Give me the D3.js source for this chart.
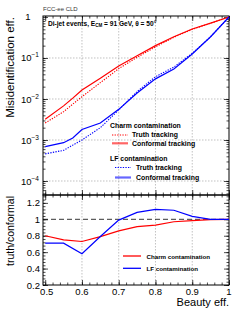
<!DOCTYPE html>
<html>
<head>
<meta charset="utf-8">
<script src="https://cdn.jsdelivr.net/npm/d3@7"></script>
<style>
  body { margin: 0; background: #fff; }
  svg { display: block; font-family: "Liberation Sans", Arial, sans-serif; }
</style>
</head>
<body>
<svg id="chart" width="249" height="324"></svg>
<script>
// beauty efficiency (x)
var effB = [0.5, 0.55, 0.575, 0.6, 0.65, 0.7, 0.75, 0.8, 0.85, 0.9, 0.95, 1.0];
// charm misid, conformal / truth tracking
var charmConformal = [3.2e-3, 6.8e-3, 1.05e-2, 1.66e-2, 3.2e-2, 6.4e-2, 0.114, 0.20, 0.33, 0.51, 0.71, 1.0];
var charmTruth     = [2.6e-3, 4.9e-3, 7.5e-3, 1.14e-2, 2.5e-2, 5.5e-2, 0.104, 0.186, 0.32, 0.50, 0.705, 1.0];
// light flavour misid
var lfConformal = [6.9e-4, 8.6e-4, 1.12e-3, 1.8e-3, 2.6e-3, 5.6e-3, 0.014, 0.031, 0.054, 0.125, 0.33, 1.0];
var lfTruth     = [4.6e-4, 5.6e-4, 7.5e-4, 1.0e-3, 2.0e-3, 5.4e-3, 0.0152, 0.035, 0.060, 0.13, 0.33, 1.0];

// ratio panel (truth / conformal)
var ratioX     = [0.5, 0.55, 0.6, 0.65, 0.7, 0.75, 0.8, 0.85, 0.9, 0.95, 1.0];
var ratioCharm = [0.80, 0.75, 0.73, 0.79, 0.86, 0.91, 0.93, 0.97, 0.985, 0.995, 1.0];
var ratioLF    = [0.71, 0.71, 0.58, 0.79, 0.99, 1.085, 1.12, 1.11, 1.035, 1.0, 1.0];

var xTicks = [0.5, 0.6, 0.7, 0.8, 0.9, 1];
var xTickLabels = ["0.5", "0.6", "0.7", "0.8", "0.9", "1"];
var yLogExp = [0, -1, -2, -3, -4];
var ratioTicks = [0.2, 0.4, 0.6, 0.8, 1, 1.2];
var ratioTickLabels = ["0.2", "0.4", "0.6", "0.8", "1", "1.2"];

var RED = "#ff0000", BLUE = "#0000ff";

var svg = d3.select("#chart");
var L = 43, R = 229, T1 = 16, B1 = 195, B2 = 285;

var x = d3.scaleLinear().domain([0.494, 1]).range([L, R]);
var y = d3.scaleLog().domain([4.56e-5, 1.057]).range([B1, T1]);
var yr = d3.scaleLinear().domain([0.2, 1.296]).range([B2, B1]);

// grid lines
function vgrid(y0, y1) {
    svg.append("g").selectAll("line")
        .data([0.6, 0.7, 0.8, 0.9])
        .enter().append("line")
        .attr("x1", function (d) { return x(d); })
        .attr("x2", function (d) { return x(d); })
        .attr("y1", y0).attr("y2", y1)
        .attr("stroke", "#999").attr("stroke-width", 0.6)
        .attr("stroke-dasharray", "1.5,1.5");
}
vgrid(T1, B1);
vgrid(B1, B2);
svg.append("g").selectAll("line")
    .data([0.1, 0.01, 0.001, 0.0001])
    .enter().append("line")
    .attr("x1", L).attr("x2", R)
    .attr("y1", function (d) { return y(d); })
    .attr("y2", function (d) { return y(d); })
    .attr("stroke", "#999").attr("stroke-width", 0.6)
    .attr("stroke-dasharray", "1.5,1.5");

// axes with inside ticks
function tickOnly(axis) {
    return function (g) {
        g.call(axis);
        g.select(".domain").remove();
        g.selectAll("text").remove();
        g.selectAll("line").attr("stroke", "#000").attr("stroke-width", 0.7);
    };
}
var xMinor = d3.range(0.5, 1.0001, 0.02);
[[B1, 1], [T1, -1], [B2, 1], [B1, -1]].forEach(function (p) {
    var mk = p[1] > 0 ? d3.axisTop : d3.axisBottom;
    svg.append("g").attr("transform", "translate(0," + p[0] + ")")
        .call(tickOnly(mk(x).tickValues(xMinor).tickSizeOuter(0).tickSize(2.5)));
    svg.append("g").attr("transform", "translate(0," + p[0] + ")")
        .call(tickOnly(mk(x).tickValues(xTicks).tickSizeOuter(0).tickSize(5)));
});

var logMinor = [];
[-5, -4, -3, -2, -1].forEach(function (e) {
    for (var k = 1; k < 10; k++) {
        var v = k * Math.pow(10, e);
        if (v >= y.domain()[0] && v <= y.domain()[1]) logMinor.push(v);
    }
});
var logMajor = yLogExp.map(function (e) { return Math.pow(10, e); });
[[L, d3.axisRight], [R, d3.axisLeft]].forEach(function (p) {
    svg.append("g").attr("transform", "translate(" + p[0] + ",0)")
        .call(tickOnly(p[1](y).tickValues(logMinor).tickSizeOuter(0).tickSize(2.5)));
    svg.append("g").attr("transform", "translate(" + p[0] + ",0)")
        .call(tickOnly(p[1](y).tickValues(logMajor).tickSizeOuter(0).tickSize(5)));
});

var rMinor = d3.range(0.2, 1.2961, 0.04);
[[L, d3.axisRight], [R, d3.axisLeft]].forEach(function (p) {
    svg.append("g").attr("transform", "translate(" + p[0] + ",0)")
        .call(tickOnly(p[1](yr).tickValues(rMinor).tickSizeOuter(0).tickSize(2.5)));
    svg.append("g").attr("transform", "translate(" + p[0] + ",0)")
        .call(tickOnly(p[1](yr).tickValues(ratioTicks).tickSizeOuter(0).tickSize(5)));
});

// frames
svg.append("rect").attr("x", L).attr("y", T1).attr("width", R - L).attr("height", B1 - T1)
    .attr("fill", "none").attr("stroke", "#000").attr("stroke-width", 1);
svg.append("rect").attr("x", L).attr("y", B1).attr("width", R - L).attr("height", B2 - B1)
    .attr("fill", "none").attr("stroke", "#000").attr("stroke-width", 1);

// tick labels
var ylab = svg.append("g").attr("font-size", 9.5).attr("fill", "#000");
yLogExp.forEach(function (e) {
    var t = ylab.append("text").attr("y", y(Math.pow(10, e)) + 3.5);
    if (e === 0) {
        t.attr("x", 28).attr("text-anchor", "middle").text("1");
    } else {
        t.attr("x", 39).attr("text-anchor", "end");
        t.append("tspan").text("10");
        t.append("tspan").attr("font-size", 6.5).attr("dy", -4).text("\u2212" + (-e));
    }
});
ratioTicks.forEach(function (v, i) {
    ylab.append("text").attr("x", 40).attr("y", yr(v) + 3.5)
        .attr("text-anchor", "end").text(ratioTickLabels[i]);
});
xTicks.forEach(function (v, i) {
    ylab.append("text").attr("x", x(v) + (i === 0 ? 1.5 : 0)).attr("y", 295)
        .attr("text-anchor", "middle").text(xTickLabels[i]);
});

// axis titles
svg.append("text").attr("x", R).attr("y", 306).attr("text-anchor", "end")
    .attr("font-size", 11).text("Beauty eff.");
svg.append("text").attr("transform", "translate(14," + 17 + ") rotate(-90)")
    .attr("text-anchor", "end").attr("font-size", 11.5).text("Misidentification eff.");
svg.append("text").attr("transform", "translate(14," + 196 + ") rotate(-90)")
    .attr("text-anchor", "end").attr("font-size", 10.5).text("truth/conformal");

svg.append("text").attr("x", L).attr("y", 11).attr("font-size", 6)
    .attr("fill", "#333").text("FCC-ee CLD");
var ttl = svg.append("text").attr("x", 48).attr("y", 25.5).attr("font-size", 6.6)
    .attr("font-weight", "bold");
ttl.append("tspan").text("Di-jet events, E");
ttl.append("tspan").attr("font-size", 4.5).attr("dy", 1.8).text("CM");
ttl.append("tspan").attr("dy", -1.8).text(" = 91 GeV, \u03b8 = 50\u00b0");

// ratio reference line
svg.append("line").attr("x1", L).attr("x2", R).attr("y1", yr(1)).attr("y2", yr(1))
    .attr("stroke", "#000").attr("stroke-width", 0.8).attr("stroke-dasharray", "5,3");

// curves
function curve(xs, ys, sy, color, dash) {
    var line = d3.line()
        .x(function (d, i) { return x(xs[i]); })
        .y(function (d) { return sy(d); });
    svg.append("path").datum(ys)
        .attr("d", line)
        .attr("fill", "none")
        .attr("stroke", color)
        .attr("stroke-width", dash ? 1.1 : 1.2)
        .attr("stroke-dasharray", dash ? "1.3,1.3" : null);
}
curve(effB, charmTruth, y, RED, true);
curve(effB, charmConformal, y, RED, false);
curve(effB, lfTruth, y, BLUE, true);
curve(effB, lfConformal, y, BLUE, false);
curve(ratioX, ratioCharm, yr, RED, false);
curve(ratioX, ratioLF, yr, BLUE, false);

// legends
var lg = svg.append("g").attr("font-size", 6.9).attr("font-weight", "bold");
lg.append("text").attr("x", 110).attr("y", 128).text("Charm contamination");
lg.append("text").attr("x", 132).attr("y", 137).text("Truth tracking");
lg.append("text").attr("x", 132).attr("y", 145.5).text("Conformal tracking");
lg.append("text").attr("x", 110).attr("y", 160.5).text("LF contamination");
lg.append("text").attr("x", 136).attr("y", 170).text("Truth tracking");
lg.append("text").attr("x", 136).attr("y", 180).text("Conformal tracking");
[[112, 128, 135, RED, true], [112, 128, 143.3, RED, false],
 [115, 131, 167.5, BLUE, true], [115, 131, 177.5, BLUE, false]].forEach(function (s) {
    lg.append("line").attr("x1", s[0]).attr("x2", s[1]).attr("y1", s[2]).attr("y2", s[2])
        .attr("stroke", s[3])
        .attr("stroke-width", s[4] ? 1.1 : 2.2)
        .attr("stroke-opacity", s[4] ? 1 : 0.6)
        .attr("stroke-dasharray", s[4] ? "1.3,1.3" : null);
});
lg.append("text").attr("x", 146.5).attr("y", 258.5).attr("font-size", 6.2).text("Charm contamination");
lg.append("text").attr("x", 146.5).attr("y", 270.5).attr("font-size", 6.2).text("LF contamination");
[[256, RED], [268.3, BLUE]].forEach(function (s) {
    lg.append("line").attr("x1", 123).attr("x2", 141).attr("y1", s[0]).attr("y2", s[0])
        .attr("stroke", s[1]).attr("stroke-width", 1.3);
});
</script>
</body>
</html>
